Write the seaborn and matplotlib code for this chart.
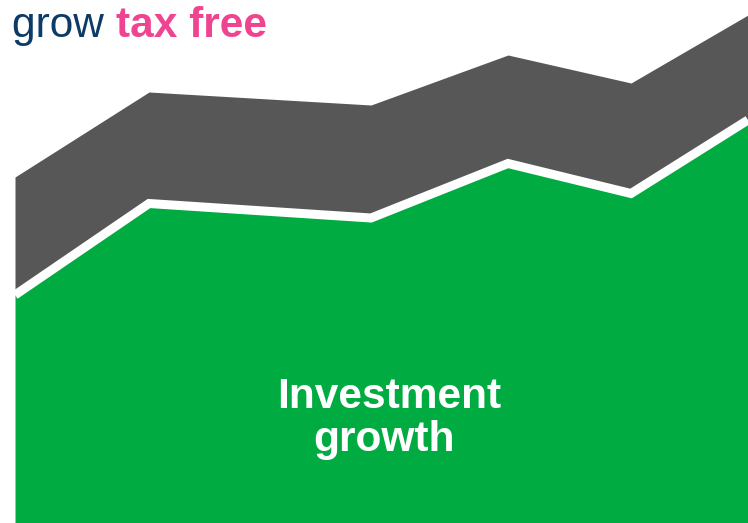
import matplotlib.pyplot as plt
import seaborn as sns
import pandas as pd

# points along the curve (horizontal position) and stacked heights
positions = [0, 134, 356, 493, 616, 733]
investment_growth = [228, 319.5, 305, 359.5, 329.5, 403]
tax_free_extra = [118, 111.5, 113, 108.5, 110.5, 105]

title_plain = "grow "
title_accent = "tax free"
area_label = ["Investment", "growth"]

GREEN = "#00ab42"
GREY = "#575757"
NAVY = "#0b3b66"
PINK = "#ef4590"

sns.set_style("white")
plt.rcParams['font.family'] = ['Liberation Sans', 'DejaVu Sans']

df = pd.DataFrame({"x": positions, "growth": investment_growth, "extra": tax_free_extra})

fig = plt.figure(figsize=(7.48, 5.23), dpi=100)
ax = fig.add_axes([15 / 748, 0, 733 / 748, 1])
ax.stackplot(df["x"], df["growth"], df["extra"], colors=[GREEN, GREY], linewidth=0)
sns.lineplot(data=df, x="x", y="growth", ax=ax, color="white", linewidth=6.5,
             solid_joinstyle="miter", solid_capstyle="butt")
ax.set_xlim(0, 733)
ax.set_ylim(0, 523)
ax.axis("off")

ax.text(0.51, 115 / 523, area_label[0], transform=ax.transAxes, ha="center",
        va="baseline", color="white", fontsize=30.6, fontweight="bold")
ax.text(0.503, 72 / 523, area_label[1], transform=ax.transAxes, ha="center",
        va="baseline", color="white", fontsize=30.6, fontweight="bold")

fig.text(12 / 748, 1 - 37 / 523, title_plain, color=NAVY, fontsize=30.5, va="baseline")
fig.text(116 / 748, 1 - 37 / 523, title_accent, color=PINK, fontsize=30.5,
         fontweight="bold", va="baseline")

fig.savefig("out.png", dpi=100)
